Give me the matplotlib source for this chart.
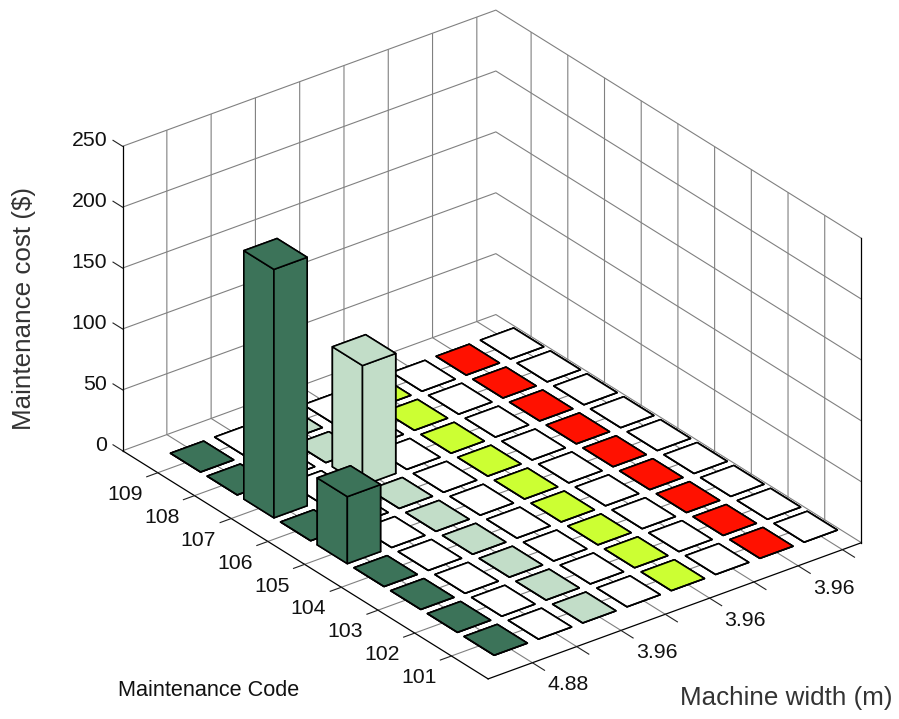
#!/usr/bin/env python3
# bar3 style chart of maintenance cost by code and machine width

from matplotlib import pyplot as plt
from mpl_toolkits.mplot3d import proj3d

plt.rcParams['font.family'] = ['Liberation Sans', 'DejaVu Sans']

# rows of the chart, front to back
maintenance_codes = ['101', '102', '103', '104', '105', '106', '107', '108', '109']
# columns of the chart, left to right (only every other one is labelled)
machine_widths = ['4.88', '', '3.96', '', '3.96', '', '3.96', '']
cost_ticks = [0, 50, 100, 150, 200, 250]

cost_col1 = [0, 0, 0, 0, 55, 0, 204, 0, 0]
cost_col3 = [0, 0, 0, 0, 0, 0, 98.5, 0, 0]
cost_zero = [0, 0, 0, 0, 0, 0, 0, 0, 0]
costs = [cost_col1, cost_zero, cost_col3, cost_zero,
         cost_zero, cost_zero, cost_zero, cost_zero]
col_colors = ['#3c7359', '#ffffff', '#c2ddc8', '#ffffff',
              '#ccff33', '#ffffff', '#ff1100', '#ffffff']

XMAX = 8.43
YMAX = 9.96
ZMAX = 250
TICK_SIZE = 15.3

fig = plt.figure(figsize=(8.99, 7.19), dpi=100)
ax = fig.add_axes([74 / 899, -43.5 / 719, 814 / 899, 814 / 719], projection='3d')
ax.set_proj_type('ortho')
ax.view_init(elev=28.5, azim=-127.4)
ax.set_box_aspect((470, 602, 346.5))

xs, ys, heights, colors = [], [], [], []
for i, col in enumerate(costs):
    for j, val in enumerate(col):
        xs.append(i + 1 - 0.375)
        ys.append(j + 1 - 0.41)
        heights.append(val)
        colors.append(col_colors[i])

ax.bar3d(xs, ys, [0] * len(xs), 0.75, 0.82, heights, color=colors,
         edgecolor='black', linewidth=1.15, shade=False)

# tick marks sit where MATLAB put them, not where mplot3d would
for i in range(len(machine_widths)):
    ax.plot([i + 1, i + 1], [0, -0.33], [0, 0], color='#222222', linewidth=0.8)
for j in range(len(maintenance_codes)):
    ax.plot([0, -0.25], [j + 1, j + 1], [0, 0], color='#222222', linewidth=0.8)
for val in cost_ticks:
    ax.plot([0, 0], [YMAX, YMAX + 0.26], [val, val], color='#222222', linewidth=0.8)

# right hand edge of the box
ax.plot([XMAX, XMAX], [0, 0], [0, ZMAX], color='black', linewidth=0.9)

ax.set_xlim(0, XMAX)
ax.set_ylim(0, YMAX)
ax.set_zlim(0, ZMAX)

ax.set_xticks(range(1, 9))
ax.set_yticks(range(1, 10))
ax.set_zticks(cost_ticks)
ax.set_xticklabels([])
ax.set_yticklabels([])
ax.set_zticklabels([])

for axis in [ax.xaxis, ax.yaxis, ax.zaxis]:
    axis.set_pane_color((1, 1, 1, 0))
    axis.pane.set_edgecolor((1, 1, 1, 0))
    axis.line.set_color('black')
    axis.line.set_linewidth(0.9)
    axis._axinfo['grid'].update(color='#808080', linewidth=0.8)
    axis._axinfo['tick'].update(inward_factor=0.0, outward_factor=0.0)


def tick_label(x, y, z, label, ha='center'):
    # project by hand so the label is plain 2D text in the axes
    px, py, _ = proj3d.proj_transform(x, y, z, ax.get_proj())
    ax.text2D(px, py, label, ha=ha, va='center', fontsize=TICK_SIZE, color='#111111')


for i, label in enumerate(machine_widths):
    if label:
        tick_label(i + 1, -0.97, 0, label)
for j, label in enumerate(maintenance_codes):
    tick_label(-0.74, j + 1, -8, label)
for val in cost_ticks:
    tick_label(-0.35, YMAX, val + 9, str(val), ha='right')

fig.text(24 / 899, 1 - 309 / 719, 'Maintenance cost ($)', rotation=90,
         ha='center', va='center', fontsize=18.7, color='#333333')
fig.text(786 / 899, 1 - 698 / 719, 'Machine width (m)', ha='center', va='center',
         fontsize=18.7, color='#333333')
fig.text(209 / 899, 1 - 690 / 719, 'Maintenance Code', ha='center', va='center',
         fontsize=15.6, color='#111111')

fig.savefig('out.png', dpi=100)
